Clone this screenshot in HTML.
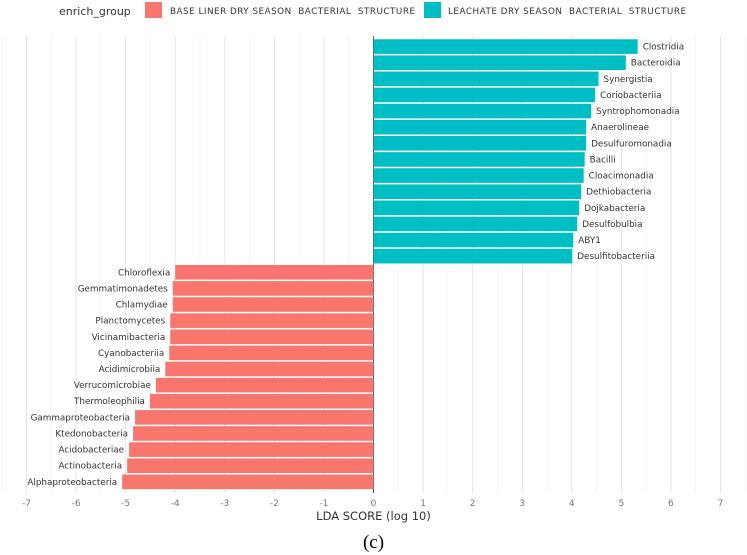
<!DOCTYPE html>
<html><head><meta charset="utf-8"><style>
body{margin:0;background:#fff;}
svg{display:block;font-family:"DejaVu Sans","Liberation Sans",sans-serif;}
.pre{white-space:pre;}
</style></head><body>
<svg id="chart" width="747" height="555">
<g id="grid"></g><g id="bars"></g><g id="labels"></g><g id="ticks"></g>
<g>
<text x="59" y="15" font-size="11" fill="#333">enrich_group</text>
<rect x="145" y="2" width="17" height="16" fill="#F8766D"/>
<text class="pre" x="170" y="14" font-size="8.8" fill="#333" textLength="245">BASE LINER DRY SEASON  BACTERIAL  STRUCTURE</text>
<rect x="424" y="2" width="17" height="16" fill="#00BFC4"/>
<text class="pre" x="448" y="14" font-size="8.8" fill="#333" textLength="238">LEACHATE DRY SEASON  BACTERIAL  STRUCTURE</text>
</g>
<text x="373.5" y="520" font-size="11.5" fill="#333" text-anchor="middle">LDA SCORE (log 10)</text>
<text x="373.5" y="548" font-size="19" fill="#000" text-anchor="middle" font-family="Liberation Serif,serif">(c)</text>
</svg>
<script>
const categories=["Clostridia","Bacteroidia","Synergistia","Coriobacteriia","Syntrophomonadia","Anaerolineae","Desulfuromonadia","Bacilli","Cloacimonadia","Dethiobacteria","Dojkabacteria","Desulfobulbia","ABY1","Desulfitobacteriia","Chloroflexia","Gemmatimonadetes","Chlamydiae","Planctomycetes","Vicinamibacteria","Cyanobacteriia","Acidimicrobiia","Verrucomicrobiae","Thermoleophilia","Gammaproteobacteria","Ktedonobacteria","Acidobacteriae","Actinobacteria","Alphaproteobacteria"];
const ldaValues=[5.33,5.09,4.54,4.47,4.39,4.29,4.29,4.26,4.24,4.19,4.15,4.11,4.03,4.01,-4.0,-4.05,-4.05,-4.1,-4.1,-4.12,-4.2,-4.39,-4.51,-4.81,-4.85,-4.93,-4.97,-5.07];
const tickValues=[-7,-6,-5,-4,-3,-2,-1,0,1,2,3,4,5,6,7];
const NS="http://www.w3.org/2000/svg";
const x0=373.5,k=49.57;
function xs(v){return x0+v*k;}
const yTop=39.3,slot=16.12,bh=14.6;
function ys(i){return yTop+i*slot;}
function mk(tag,attrs,parent){const e=document.createElementNS(NS,tag);for(const a in attrs)e.setAttribute(a,attrs[a]);document.getElementById(parent).appendChild(e);return e;}
for(let v=-7.5;v<=7.5;v+=0.5){
  const l=mk('line',{x1:xs(v),x2:xs(v),y1:36,y2:493,stroke:Number.isInteger(v)?'#e6e6e6':'#f3f3f3','stroke-width':Number.isInteger(v)?1:0.8},'grid');
  
  
}
categories.forEach((c,i)=>{
  const v=ldaValues[i];
  const r=mk('rect',{x:Math.min(xs(0),xs(v)),y:ys(i),width:Math.abs(xs(v)-xs(0)),height:bh,fill:v>0?'#00BFC4':'#F8766D'},'bars');
  
  
  const t=mk('text',{x:v>0?xs(v)+5:xs(v)-5,y:ys(i)+bh/2+3,'font-size':8.8,fill:'#333','text-anchor':v>0?'start':'end'},'labels');
  t.textContent=c;
  
  
});
const zl=mk('line',{x1:xs(0),x2:xs(0),y1:36,y2:493,stroke:'#333','stroke-width':0.8},'grid');


tickValues.forEach(v=>{
  const t=mk('text',{x:xs(v),y:506,'font-size':9,fill:'#777','text-anchor':'middle'},'ticks');
  t.textContent=v;
  
  
});
</script>
</body></html>
